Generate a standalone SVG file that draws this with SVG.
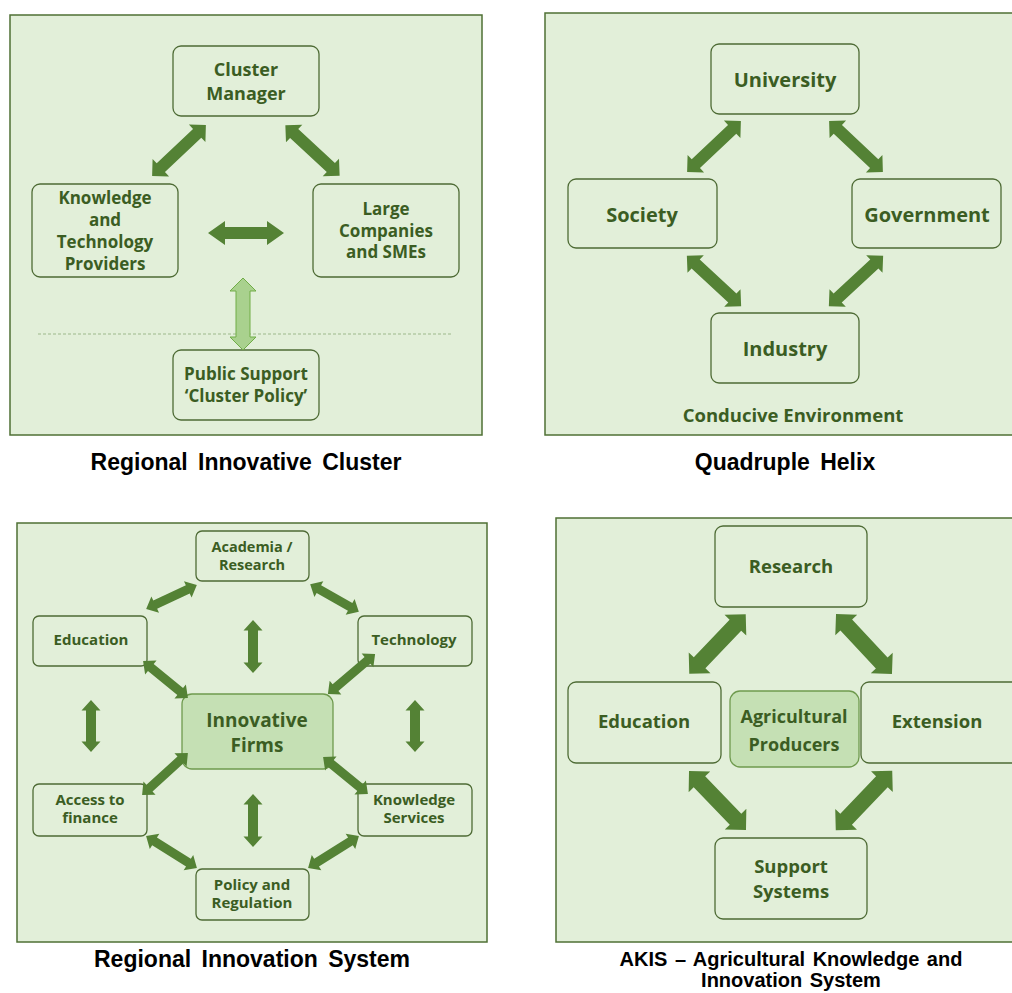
<svg xmlns="http://www.w3.org/2000/svg" width="1012" height="993" viewBox="0 0 1012 993">
<style>
.bg{fill:#ffffff}
.panel{fill:#e2efd9;stroke:#4f7034;stroke-width:1.5}
.box{fill:#e2efd9;stroke:#4e6b35;stroke-width:1.3}
.hub{fill:#c5e0b4;stroke:#6f9a4e;stroke-width:1.3}
.arr{fill:#548235}
.arrl{fill:#a9d18e;stroke:#70ad47;stroke-width:1}
.t{font-family:"Open Sans","Noto Sans",sans-serif;font-weight:700;fill:#3b5d23;text-anchor:middle}
.ttl{font-family:"Liberation Sans",Arial,sans-serif;font-weight:700;fill:#000;text-anchor:middle}
</style>
<rect class="bg" x="0" y="0" width="1012" height="993"/>

<!-- Panels -->
<g id="panel-cluster"><rect class="panel" x="10" y="15" width="472" height="420"/>
<line x1="38" y1="334" x2="453" y2="334" stroke="#9db88b" stroke-width="1" stroke-dasharray="3,2"/></g>
<g id="panel-helix"><rect class="panel" x="545" y="13" width="480" height="422"/></g>
<g id="panel-ris"><rect class="panel" x="17" y="523" width="470" height="419"/></g>
<g id="panel-akis"><rect class="panel" x="556" y="518" width="470" height="424"/></g>

<!-- Panel 1 nodes -->
<g id="cluster-manager"><rect class="box" x="173" y="46" width="146" height="70" rx="8"/>
<text class="t" font-size="18"><tspan x="246" y="76">Cluster</tspan><tspan x="246" y="100">Manager</tspan></text></g>
<g id="knowledge-providers"><rect class="box" x="32" y="184" width="146" height="93" rx="8"/>
<text class="t" font-size="17"><tspan x="105" y="204">Knowledge</tspan><tspan x="105" y="226">and</tspan><tspan x="105" y="248">Technology</tspan><tspan x="105" y="270">Providers</tspan></text></g>
<g id="large-companies"><rect class="box" x="313" y="184" width="146" height="93" rx="8"/>
<text class="t" font-size="17"><tspan x="386" y="215">Large</tspan><tspan x="386" y="237">Companies</tspan><tspan x="386" y="258">and SMEs</tspan></text></g>
<g id="public-support"><rect class="box" x="173" y="350" width="146" height="70" rx="8"/>
<text class="t" font-size="17"><tspan x="246" y="380">Public Support</tspan><tspan x="246" y="402">‘Cluster Policy’</tspan></text></g>
<g id="title-cluster"><text class="ttl" font-size="23" word-spacing="4" x="246" y="470">Regional Innovative Cluster</text></g>

<!-- Panel 2 nodes -->
<g id="university"><rect class="box" x="711" y="44" width="148" height="70" rx="8"/>
<text class="t" font-size="20" x="785" y="87">University</text></g>
<g id="society"><rect class="box" x="568" y="179" width="149" height="69" rx="8"/>
<text class="t" font-size="20" x="642" y="222">Society</text></g>
<g id="government"><rect class="box" x="852" y="179" width="149" height="69" rx="8"/>
<text class="t" font-size="20" x="927" y="222">Government</text></g>
<g id="industry"><rect class="box" x="711" y="313" width="148" height="70" rx="8"/>
<text class="t" font-size="20" x="785" y="356">Industry</text></g>
<g id="conducive"><text class="t" font-size="18.5" x="793" y="422">Conducive Environment</text></g>
<g id="title-helix"><text class="ttl" font-size="23" word-spacing="4" x="785" y="470">Quadruple Helix</text></g>

<!-- Panel 3 nodes -->
<g id="academia"><rect class="box" x="196" y="531" width="113" height="50" rx="6"/>
<text class="t" font-size="14.5"><tspan x="252" y="552">Academia /</tspan><tspan x="252" y="570">Research</tspan></text></g>
<g id="education-ris"><rect class="box" x="33" y="616" width="114" height="50" rx="6"/>
<text class="t" font-size="15" x="91" y="645">Education</text></g>
<g id="technology"><rect class="box" x="358" y="616" width="114" height="50" rx="6"/>
<text class="t" font-size="15" x="414" y="645">Technology</text></g>
<g id="innovative-firms"><rect class="hub" x="182" y="694" width="151" height="75" rx="10"/>
<text class="t" font-size="19"><tspan x="257" y="727">Innovative</tspan><tspan x="257" y="752">Firms</tspan></text></g>
<g id="access-finance"><rect class="box" x="33" y="784" width="114" height="52" rx="6"/>
<text class="t" font-size="15"><tspan x="90" y="805">Access to</tspan><tspan x="90" y="823">finance</tspan></text></g>
<g id="knowledge-services"><rect class="box" x="358" y="784" width="114" height="52" rx="6"/>
<text class="t" font-size="15"><tspan x="414" y="805">Knowledge</tspan><tspan x="414" y="823">Services</tspan></text></g>
<g id="policy-regulation"><rect class="box" x="196" y="869" width="113" height="51" rx="6"/>
<text class="t" font-size="15"><tspan x="252" y="890">Policy and</tspan><tspan x="252" y="908">Regulation</tspan></text></g>
<g id="title-ris"><text class="ttl" font-size="23" word-spacing="4" x="252" y="967">Regional Innovation System</text></g>

<!-- Panel 4 nodes -->
<g id="research"><rect class="box" x="715" y="526" width="152" height="81" rx="8"/>
<text class="t" font-size="18.5" x="791" y="573">Research</text></g>
<g id="education-akis"><rect class="box" x="568" y="682" width="153" height="81" rx="8"/>
<text class="t" font-size="18.5" x="644" y="728">Education</text></g>
<g id="agri-producers"><rect class="hub" x="730" y="691" width="129" height="76" rx="10"/>
<text class="t" font-size="18"><tspan x="794" y="723">Agricultural</tspan><tspan x="794" y="751">Producers</tspan></text></g>
<g id="extension"><rect class="box" x="861" y="682" width="160" height="81" rx="8"/>
<text class="t" font-size="18.5" x="937" y="728">Extension</text></g>
<g id="support-systems"><rect class="box" x="715" y="838" width="152" height="81" rx="8"/>
<text class="t" font-size="18.5"><tspan x="791" y="873">Support</tspan><tspan x="791" y="898">Systems</tspan></text></g>
<g id="title-akis"><text class="ttl" font-size="20" word-spacing="2"><tspan x="791" y="966">AKIS – Agricultural Knowledge and</tspan><tspan x="791" y="987">Innovation System</tspan></text></g>

<!-- Connectors -->
<g id="connectors">
<!-- panel 1 -->
<path class="arr" transform="translate(179,150.5) rotate(-43.4)" d="M-37 0L-25-12L-25-6L25-6L25-12L37 0L25 12L25 6L-25 6L-25 12Z"/>
<path class="arr" transform="translate(312.5,150.5) rotate(42.8)" d="M-37 0L-25-12L-25-6L25-6L25-12L37 0L25 12L25 6L-25 6L-25 12Z"/>
<path class="arr" transform="translate(246,233)" d="M-38 0L-21-12L-21-6L21-6L21-12L38 0L21 12L21 6L-21 6L-21 12Z"/>
<path class="arrl" transform="translate(243,314) rotate(90)" d="M-36 0L-23-13L-23-7L23-7L23-13L36 0L23 13L23 7L-23 7L-23 13Z"/>
<!-- panel 2 -->
<path class="arr" transform="translate(714,146.5) rotate(-43.4)" d="M-37 0L-25-12L-25-6L25-6L25-12L37 0L25 12L25 6L-25 6L-25 12Z"/>
<path class="arr" transform="translate(856,146.5) rotate(43.4)" d="M-37 0L-25-12L-25-6L25-6L25-12L37 0L25 12L25 6L-25 6L-25 12Z"/>
<path class="arr" transform="translate(714,281) rotate(42.8)" d="M-37 0L-25-12L-25-6L25-6L25-12L37 0L25 12L25 6L-25 6L-25 12Z"/>
<path class="arr" transform="translate(856,281) rotate(-42.8)" d="M-37 0L-25-12L-25-6L25-6L25-12L37 0L25 12L25 6L-25 6L-25 12Z"/>
<!-- panel 3 -->
<path class="arr" transform="translate(171.5,597) rotate(-25.2)" d="M-28 0L-18-9L-18-4.5L18-4.5L18-9L28 0L18 9L18 4.5L-18 4.5L-18 9Z"/>
<path class="arr" transform="translate(334.5,598) rotate(29.7)" d="M-28 0L-18-9L-18-4.5L18-4.5L18-9L28 0L18 9L18 4.5L-18 4.5L-18 9Z"/>
<path class="arr" transform="translate(253,646.5) rotate(90)" d="M-26.5 0L-16-9.5L-16-5L16-5L16-9.5L26.5 0L16 9.5L16 5L-16 5L-16 9.5Z"/>
<path class="arr" transform="translate(165.5,679.5) rotate(39.4)" d="M-29 0L-19-9L-19-4.5L19-4.5L19-9L29 0L19 9L19 4.5L-19 4.5L-19 9Z"/>
<path class="arr" transform="translate(351.5,674) rotate(-40.4)" d="M-31 0L-21-9L-21-4.5L21-4.5L21-9L31 0L21 9L21 4.5L-21 4.5L-21 9Z"/>
<path class="arr" transform="translate(91,726) rotate(90)" d="M-26 0L-15.5-9.5L-15.5-5L15.5-5L15.5-9.5L26 0L15.5 9.5L15.5 5L-15.5 5L-15.5 9.5Z"/>
<path class="arr" transform="translate(415,726) rotate(90)" d="M-26 0L-15.5-9.5L-15.5-5L15.5-5L15.5-9.5L26 0L15.5 9.5L15.5 5L-15.5 5L-15.5 9.5Z"/>
<path class="arr" transform="translate(165,774) rotate(-42.4)" d="M-31 0L-21-9L-21-4.5L21-4.5L21-9L31 0L21 9L21 4.5L-21 4.5L-21 9Z"/>
<path class="arr" transform="translate(345.5,775.5) rotate(39.4)" d="M-29 0L-19-9L-19-4.5L19-4.5L19-9L29 0L19 9L19 4.5L-19 4.5L-19 9Z"/>
<path class="arr" transform="translate(253,820.5) rotate(90)" d="M-26.5 0L-16-9.5L-16-5L16-5L16-9.5L26.5 0L16 9.5L16 5L-16 5L-16 9.5Z"/>
<path class="arr" transform="translate(171.5,852) rotate(32.1)" d="M-30 0L-20-9L-20-4.5L20-4.5L20-9L30 0L20 9L20 4.5L-20 4.5L-20 9Z"/>
<path class="arr" transform="translate(333.5,852) rotate(-32.1)" d="M-30 0L-20-9L-20-4.5L20-4.5L20-9L30 0L20 9L20 4.5L-20 4.5L-20 9Z"/>
<!-- panel 4 -->
<path class="arr" transform="translate(717.5,644) rotate(-46.5)" d="M-41 0L-26-15L-26-8L26-8L26-15L41 0L26 15L26 8L-26 8L-26 15Z"/>
<path class="arr" transform="translate(864,644) rotate(47)" d="M-41 0L-26-15L-26-8L26-8L26-15L41 0L26 15L26 8L-26 8L-26 15Z"/>
<path class="arr" transform="translate(717.5,800.5) rotate(46)" d="M-41 0L-26-15L-26-8L26-8L26-15L41 0L26 15L26 8L-26 8L-26 15Z"/>
<path class="arr" transform="translate(864,800.5) rotate(-46.5)" d="M-41 0L-26-15L-26-8L26-8L26-15L41 0L26 15L26 8L-26 8L-26 15Z"/>
</g>
</svg>
